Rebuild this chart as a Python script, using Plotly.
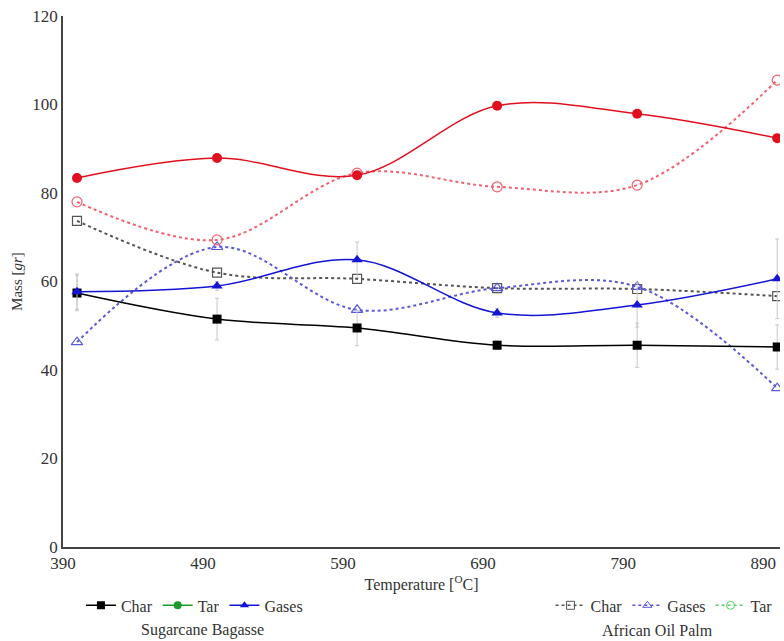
import plotly.graph_objects as go

temperature = [400, 500, 600, 700, 800, 900]
x_ticks = [390, 490, 590, 690, 790, 890]
y_ticks = [0, 20, 40, 60, 80, 100, 120]

sb_char = [57.4, 51.5, 49.5, 45.6, 45.6, 45.2]
sb_tar = [83.4, 87.9, 84.0, 99.7, 97.9, 92.4]
sb_gases = [57.7, 59.0, 64.9, 52.9, 54.7, 60.6]
sb_char_err = [4.0, 4.7, 4.0, 1.0, 5.0, 5.0]
sb_gases_err = [4.0, 1.0, 4.0, 1.0, 5.0, 9.0]

aop_char = [73.7, 62.0, 60.6, 58.5, 58.3, 56.7]
aop_gases = [46.3, 67.8, 53.6, 58.5, 58.8, 35.9]
aop_tar = [78.0, 69.4, 84.5, 81.4, 81.8, 105.5]

FONT = "'Liberation Serif', 'Times New Roman', 'DejaVu Serif', serif"
fig = go.Figure()

def err(vals):
    return dict(type="data", array=vals, color="#c8c8c8", thickness=1, width=2)

# African Oil Palm (dotted, open markers)
fig.add_trace(go.Scatter(x=temperature, y=aop_char, mode="lines+markers", showlegend=False,
    line=dict(color="#555555", width=2, dash="dot", shape="spline", smoothing=1),
    marker=dict(symbol="square-open", size=9, color="#555555", line=dict(width=1.2))))
fig.add_trace(go.Scatter(x=temperature, y=aop_gases, mode="lines+markers", showlegend=False,
    line=dict(color="#5a5ad8", width=2, dash="dot", shape="spline", smoothing=1),
    marker=dict(symbol="triangle-up-open", size=10, color="#5a5ad8", line=dict(width=1.2))))
fig.add_trace(go.Scatter(x=temperature, y=aop_tar, mode="lines+markers", showlegend=False,
    line=dict(color="#f06070", width=2, dash="dot", shape="spline", smoothing=1),
    marker=dict(symbol="circle-open", size=10, color="#f06070", line=dict(width=1.2))))

# Sugarcane Bagasse (solid, filled markers)
fig.add_trace(go.Scatter(x=temperature, y=sb_char, mode="lines+markers", showlegend=False,
    error_y=err(sb_char_err),
    line=dict(color="black", width=1.5, shape="spline", smoothing=1),
    marker=dict(symbol="square", size=9, color="black")))
fig.add_trace(go.Scatter(x=temperature, y=sb_gases, mode="lines+markers", showlegend=False,
    error_y=err(sb_gases_err),
    line=dict(color="#1414d2", width=1.5, shape="spline", smoothing=1),
    marker=dict(symbol="triangle-up", size=10, color="#1414d2")))
fig.add_trace(go.Scatter(x=temperature, y=sb_tar, mode="lines+markers", showlegend=False,
    line=dict(color="#e0101e", width=1.5, shape="spline", smoothing=1),
    marker=dict(symbol="circle", size=10, color="#e0101e")))

# Legend entries
def leg(name, color, symbol, dash, legend, size=8):
    fig.add_trace(go.Scatter(x=[None], y=[None], mode="lines+markers", name=name, legend=legend,
        line=dict(color=color, width=1.5, dash=dash),
        marker=dict(symbol=symbol, size=size, color=color)))

leg("Char", "black", "square", "solid", "legend")
leg("Tar", "#1f9a2a", "circle", "solid", "legend")
leg("Gases", "#1414d2", "triangle-up", "solid", "legend")
leg("Char", "#555555", "square-open", "dot", "legend2")
leg("Gases", "#5a5ad8", "triangle-up-open", "dot", "legend2")
leg("Tar", "#5ad06a", "circle-open", "dot", "legend2")

fig.update_layout(
    width=784, height=641,
    margin=dict(l=63, r=4, t=16, b=94),
    paper_bgcolor="white", plot_bgcolor="white",
    font=dict(family=FONT, size=16, color="#333333"),
    xaxis=dict(range=[390, 902], tickvals=x_ticks, ticktext=[str(v) for v in x_ticks],
               showgrid=False, zeroline=False, showline=True, linecolor="#444444", linewidth=1.5,
               ticks="", tickfont=dict(size=17), ticklabelstandoff=0,
               title=dict(text="Temperature [<sup>O</sup>C]", font=dict(size=16), standoff=2)),
    yaxis=dict(range=[0, 120], tickvals=y_ticks, showgrid=False, zeroline=False,
               showline=True, linecolor="#444444", linewidth=1.5, ticks="",
               tickfont=dict(size=17),
               title=dict(text="Mass [<i>gr</i>]", font=dict(size=15), standoff=6)),
    legend=dict(orientation="h", x=0.025, y=-0.11, xanchor="left", yanchor="middle",
                font=dict(size=16), bgcolor="rgba(0,0,0,0)", itemwidth=30, tracegroupgap=0),
    legend2=dict(orientation="h", x=0.68, y=-0.11, xanchor="left", yanchor="middle",
                 font=dict(size=16), bgcolor="rgba(0,0,0,0)", itemwidth=30),
    annotations=[
        dict(text="Sugarcane Bagasse", x=(202 - 63) / 1.4 + 390, y=-0.157, xref="x", yref="paper",
             xanchor="center", yanchor="middle", showarrow=False, font=dict(size=16)),
        dict(text="African Oil Palm", x=(657 - 63) / 1.4 + 390, y=-0.157, xref="x", yref="paper",
             xanchor="center", yanchor="middle", showarrow=False, font=dict(size=16)),
    ],
)

fig.write_html("out.html")
